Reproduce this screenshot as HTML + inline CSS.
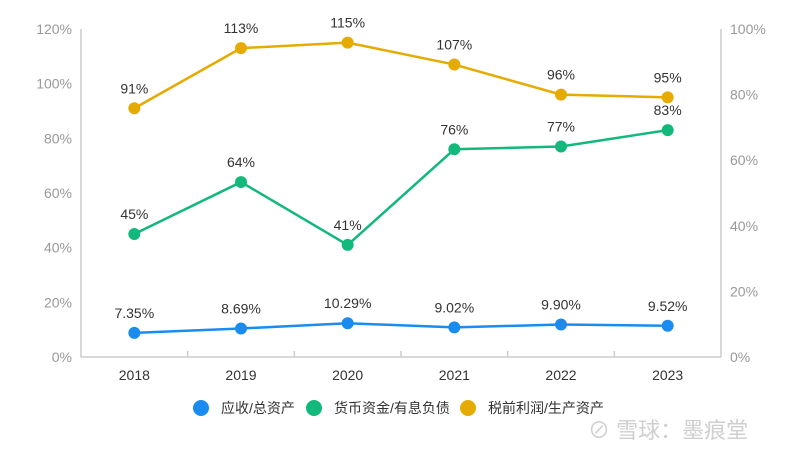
<!DOCTYPE html>
<html><head><meta charset="utf-8"><style>
html,body{margin:0;padding:0;background:#fff;}
svg{display:block;font-family:"Liberation Sans","Noto Sans CJK SC",sans-serif;}
</style></head><body>
<svg id="c" width="800" height="456"></svg>
<script>
const categories=["2018","2019","2020","2021","2022","2023"];
const receivableRatio=[7.35,8.69,10.29,9.02,9.90,9.52];
const receivableLabels=["7.35%","8.69%","10.29%","9.02%","9.90%","9.52%"];
const cashDebtRatio=[45,64,41,76,77,83];
const preTaxAssetRatio=[91,113,115,107,96,95];
const leftTicks=[0,20,40,60,80,100,120];
const rightTicks=[0,20,40,60,80,100];
const NS="http://www.w3.org/2000/svg";
const svg=document.getElementById('c');
const X0=81,X1=721,Y0=357,Y1=29;
const bw=(X1-X0)/categories.length;
const xs=i=>X0+bw*(i+0.5);
const yL=v=>Y0-(v/120)*(Y0-Y1);
const yR=v=>Y0-(v/100)*(Y0-Y1);
function el(t,a,p){const e=document.createElementNS(NS,t);for(const k in a)e.setAttribute(k,a[k]);(p||svg).appendChild(e);return e;}
const ax=el('line',{x1:X0,y1:Y1,x2:X0,y2:Y0,stroke:'#ccc','stroke-width':1.5});

const ax2=el('line',{x1:X1,y1:Y1,x2:X1,y2:Y0,stroke:'#ccc','stroke-width':1.5});

const ax3=el('line',{x1:X0,y1:Y0,x2:X1,y2:Y0,stroke:'#ccc','stroke-width':1.5});

for(let i=1;i<categories.length;i++){
  const t=el('line',{x1:X0+bw*i,y1:Y0,x2:X0+bw*i,y2:Y0-6,stroke:'#ccc','stroke-width':1.5});
  
}
leftTicks.forEach(v=>{
  const t=el('text',{x:X0-9,y:yL(v)+5,'text-anchor':'end','font-size':14,fill:'#999'});t.textContent=v+'%';
  
});
rightTicks.forEach(v=>{
  const t=el('text',{x:X1+9,y:yR(v)+5,'text-anchor':'start','font-size':14,fill:'#999'});t.textContent=v+'%';
  
});
categories.forEach((c,i)=>{
  const t=el('text',{x:xs(i),y:380,'text-anchor':'middle','font-size':14,fill:'#333'});t.textContent=c;
  
});
function series(vals,yf,color,labels,name){
  const pts=vals.map((v,i)=>xs(i)+','+yf(v)).join(' ');
  const l=el('polyline',{points:pts,fill:'none',stroke:color,'stroke-width':2.5});
  
  vals.forEach((v,i)=>{
    const c=el('circle',{cx:xs(i),cy:yf(v),r:6,fill:color});
    
    const t=el('text',{x:xs(i),y:yf(v)-15,'text-anchor':'middle','font-size':14,fill:'#333'});
    t.textContent=labels[i];
    
  });
}
series(receivableRatio,yR,'#1a8cf0',receivableLabels,'receivable-ratio');
series(cashDebtRatio,yL,'#12b87c',cashDebtRatio.map(v=>v+'%'),'cash-debt-ratio');
series(preTaxAssetRatio,yL,'#e6ab00',preTaxAssetRatio.map(v=>v+'%'),'pretax-asset-ratio');
const legend=[["应收/总资产",'#1a8cf0',201],["货币资金/有息负债",'#12b87c',314],["税前利润/生产资产",'#e6ab00',468]];
legend.forEach(([n,c,x])=>{
  const g=el('g',{});
  
  el('circle',{cx:x,cy:408,r:8,fill:c},g);
  const t=el('text',{x:x+20,y:413,'font-size':14,fill:'#333'},g);t.textContent=n;
});
const w=el('text',{x:588,y:438,'font-size':22,fill:'#cfcfcf'});w.textContent='⊘ 雪球：墨痕堂';

</script>
</body></html>
